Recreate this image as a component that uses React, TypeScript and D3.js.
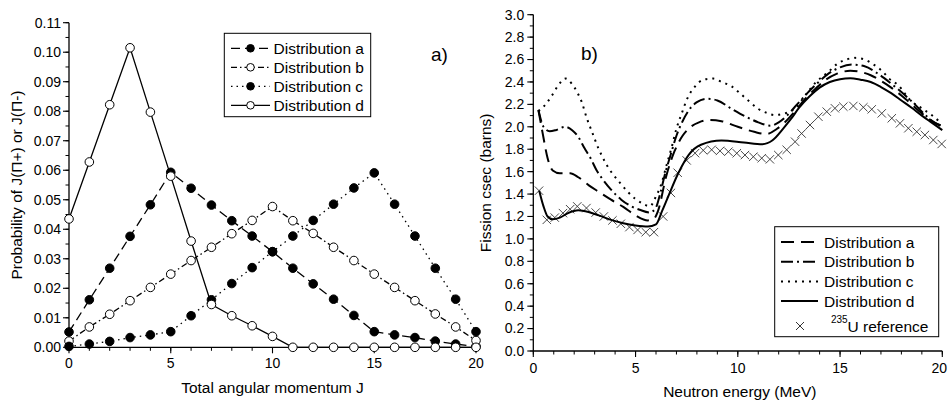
import React from "react";
import * as d3 from "d3";

// ---------- Panel a) data ----------
const J = [0, 1, 2, 3, 4, 5, 6, 7, 8, 9, 10, 11, 12, 13, 14, 15, 16, 17, 18, 19, 20];
const distA = [0.0052, 0.0161, 0.0268, 0.0376, 0.0483, 0.0593, 0.0539, 0.0482, 0.0429, 0.0377, 0.0324, 0.0268, 0.0215, 0.0163, 0.0108, 0.0053, 0.0042, 0.0033, 0.0021, 0.0011, 0.0003];
const distB = [0.0021, 0.0069, 0.0112, 0.0158, 0.0203, 0.0248, 0.0294, 0.0339, 0.0385, 0.043, 0.0477, 0.0429, 0.0386, 0.0339, 0.0294, 0.0248, 0.0203, 0.0158, 0.0113, 0.0069, 0.0023];
const distC = [0.0003, 0.0011, 0.002, 0.0033, 0.0042, 0.0053, 0.0107, 0.0161, 0.0216, 0.027, 0.0324, 0.0377, 0.043, 0.0485, 0.054, 0.0591, 0.0485, 0.0377, 0.0268, 0.0163, 0.0053];
const distD = [0.0435, 0.0628, 0.0822, 0.1015, 0.0797, 0.058, 0.036, 0.0145, 0.0107, 0.0073, 0.0037, 0, 0, 0, 0, 0, 0, 0, 0, 0, 0];
const legendA = ["Distribution a", "Distribution b", "Distribution c", "Distribution d"];

// ---------- Panel b) data ----------
const energyA = [0.25, 0.45, 0.7, 0.95, 1.3, 1.8, 2.2, 2.7, 3.2, 3.8, 4.4, 5.0, 5.6, 5.9, 6.1, 6.5, 6.9, 7.3, 7.7, 8.1, 8.6, 9.2, 10.0, 10.8, 11.4, 11.9, 12.3, 12.8, 13.3, 13.8, 14.3, 14.8, 15.5, 16.0, 16.5, 17.0, 17.5, 18.0, 18.5, 19.0, 19.5, 20.0];
const csecA = [2.15, 1.95, 1.72, 1.61, 1.585, 1.585, 1.55, 1.48, 1.42, 1.35, 1.285, 1.21, 1.165, 1.18, 1.25, 1.56, 1.78, 1.92, 2.0, 2.04, 2.06, 2.05, 2.0, 1.955, 1.935, 1.98, 2.04, 2.14, 2.25, 2.34, 2.42, 2.47, 2.5, 2.49, 2.46, 2.41, 2.35, 2.28, 2.2, 2.12, 2.05, 2.0];

const energyB = [0.25, 0.5, 0.8, 1.1, 1.55, 1.9, 2.2, 2.5, 2.8, 3.1, 3.4, 3.8, 4.3, 4.8, 5.2, 5.7, 6.0, 6.2, 6.45, 6.7, 7.0, 7.3, 7.7, 8.0, 8.5, 9.0, 9.7, 10.4, 11.0, 11.6, 12.0, 12.4, 12.9, 13.4, 13.9, 14.4, 15.0, 15.6, 16.2, 16.8, 17.4, 18.0, 18.6, 19.2, 19.6, 20.0];
const csecB = [2.15, 2.0, 1.96, 1.97, 2.0, 1.97, 1.91, 1.81, 1.72, 1.61, 1.53, 1.44, 1.35, 1.29, 1.26, 1.235, 1.28, 1.4, 1.585, 1.74, 1.92, 2.05, 2.17, 2.22, 2.25, 2.235, 2.16, 2.09, 2.04, 2.01, 2.04, 2.1, 2.2, 2.3, 2.39, 2.47, 2.53, 2.555, 2.54, 2.48, 2.4, 2.31, 2.21, 2.1, 2.04, 2.01];

const energyC = [0.25, 0.65, 0.95, 1.22, 1.58, 1.9, 2.17, 2.37, 2.61, 2.86, 3.18, 3.59, 4.24, 4.97, 5.4, 5.7, 6.0, 6.28, 6.52, 6.77, 7.01, 7.26, 7.5, 7.91, 8.31, 8.8, 9.21, 9.7, 10.1, 10.6, 11.0, 11.4, 11.82, 12.22, 12.8, 13.3, 13.78, 14.43, 14.9, 15.3, 15.73, 16.2, 16.6, 17.1, 17.4, 17.85, 18.42, 18.99, 19.48, 19.9];
const csecC = [2.14, 2.21, 2.29, 2.37, 2.43, 2.38, 2.3, 2.22, 2.08, 1.96, 1.81, 1.66, 1.5, 1.36, 1.31, 1.29, 1.38, 1.5, 1.66, 1.82, 1.99, 2.12, 2.24, 2.36, 2.42, 2.43, 2.4, 2.36, 2.3, 2.22, 2.16, 2.125, 2.105, 2.115, 2.165, 2.28, 2.39, 2.49, 2.566, 2.6, 2.615, 2.6, 2.56, 2.49, 2.43, 2.37, 2.24, 2.165, 2.105, 2.04];

const energyD = [0.29, 0.5, 0.7, 0.95, 1.3, 1.7, 2.2, 2.7, 3.2, 3.8, 4.4, 5.0, 5.6, 6.0, 6.3, 6.6, 7.1, 7.6, 8.2, 9.2, 10.3, 11.2, 11.7, 12.2, 12.6, 13.0, 13.5, 14.0, 14.5, 15.0, 15.5, 16.0, 16.5, 17.0, 17.5, 18.0, 18.5, 19.0, 19.5, 20.0];
const csecD = [1.43, 1.29, 1.2, 1.175, 1.19, 1.23, 1.255, 1.24, 1.21, 1.17, 1.14, 1.12, 1.11, 1.13, 1.25, 1.38, 1.59, 1.75, 1.84, 1.877, 1.86, 1.845, 1.88, 1.98, 2.07, 2.17, 2.27, 2.35, 2.4, 2.425, 2.433, 2.42, 2.4, 2.355, 2.3, 2.235, 2.17, 2.1, 2.035, 1.97];

const energyRef = [0.28, 0.66, 1.05, 1.45, 1.8, 2.15, 2.6, 3.05, 3.45, 3.87, 4.28, 4.7, 5.1, 5.5, 5.9, 6.35, 6.73, 7.06, 7.5, 7.91, 8.31, 8.72, 9.13, 9.54, 9.95, 10.35, 10.76, 11.17, 11.57, 11.98, 12.39, 12.8, 13.12, 13.53, 13.94, 14.35, 14.75, 15.16, 15.65, 16.14, 16.55, 17.04, 17.53, 17.93, 18.34, 18.75, 19.15, 19.56, 19.97];
const csecRef = [1.43, 1.17, 1.19, 1.23, 1.265, 1.29, 1.275, 1.235, 1.2, 1.165, 1.135, 1.105, 1.08, 1.06, 1.06, 1.2, 1.41, 1.59, 1.7, 1.765, 1.79, 1.795, 1.785, 1.778, 1.764, 1.748, 1.733, 1.72, 1.71, 1.748, 1.795, 1.867, 1.94, 2.016, 2.09, 2.135, 2.165, 2.18, 2.186, 2.174, 2.156, 2.12, 2.076, 2.031, 1.987, 1.956, 1.927, 1.882, 1.847];
const legendB = ["Distribution a", "Distribution b", "Distribution c", "Distribution d"];

const FONT = "'Liberation Sans', Arial, Helvetica, sans-serif";

export default function App() {
  const xL = d3.scaleLinear().domain([0, 20]).range([69, 476]);
  const yL = d3.scaleLinear().domain([0, 0.11]).range([347.3, 22.7]);
  const xR = d3.scaleLinear().domain([0, 20]).range([533.3, 942.3]);
  const yR = d3.scaleLinear().domain([0, 3]).range([351, 14.7]);

  const lineL = d3
    .line<[number, number]>()
    .x((d) => xL(d[0]))
    .y((d) => yL(d[1]));
  const lineR = d3
    .line<[number, number]>()
    .x((d) => xR(d[0]))
    .y((d) => yR(d[1]))
    .curve(d3.curveMonotoneX);

  const seriesL = [
    { vals: distA, dash: "9,5", fill: "#000" },
    { vals: distB, dash: "6,3,1.5,3", fill: "#fff" },
    { vals: distC, dash: "1.5,4", fill: "#000" },
    { vals: distD, dash: "none", fill: "#fff" },
  ];
  const seriesR = [
    { e: energyA, v: csecA, dash: "13,7" },
    { e: energyB, v: csecB, dash: "12,4,2,4" },
    { e: energyC, v: csecC, dash: "2,5" },
    { e: energyD, v: csecD, dash: "none" },
  ];
  const legendSampleR = ["13,7", "12,4,2,4", "2,5", "none"];

  const fmtL = d3.format(".2f");
  const fmtR = d3.format(".1f");
  const tickFont = 14;

  const xLMajor = xL.ticks(4);
  const xLMinor = xL.ticks(20);
  const yLMajor = yL.ticks(11);
  const yLMinor = yL.ticks(22);
  const xRMajor = xR.ticks(4);
  const xRMinor = xR.ticks(20);
  const yRMajor = yR.ticks(15);
  const yRMinor = yR.ticks(30);

  const axisStroke = 1.3;

  return (
    <svg
      width={948}
      height={402}
      style={{ position: "absolute", left: 0, top: 0, background: "#fff" }}
      fontFamily={FONT}
    >
      <rect x={0} y={0} width={948} height={402} fill="#fff" />

      {/* ================= Panel a ================= */}
      <g>
        <line x1={xL(0)} x2={xL(0)} y1={yL(0)} y2={yL(0.11)} stroke="#000" strokeWidth={axisStroke} />
        <line x1={xL(0)} x2={xL(20)} y1={yL(0)} y2={yL(0)} stroke="#000" strokeWidth={axisStroke} />
        {yLMinor.map((t, i) => (
          <line key={"ylm" + i} x1={xL(0) - 3.5} x2={xL(0)} y1={yL(t)} y2={yL(t)} stroke="#000" strokeWidth={1} />
        ))}
        {yLMajor.map((t, i) => (
          <g key={"ylM" + i}>
            <line x1={xL(0) - 6} x2={xL(0)} y1={yL(t)} y2={yL(t)} stroke="#000" strokeWidth={1.1} />
            <text x={xL(0) - 8} y={yL(t)} dy="0.35em" textAnchor="end" fontSize={tickFont}>
              {fmtL(t)}
            </text>
          </g>
        ))}
        {xLMinor.map((t, i) => (
          <line key={"xlm" + i} x1={xL(t)} x2={xL(t)} y1={yL(0)} y2={yL(0) + 3.5} stroke="#000" strokeWidth={1} />
        ))}
        {xLMajor.map((t, i) => (
          <g key={"xlM" + i}>
            <line x1={xL(t)} x2={xL(t)} y1={yL(0)} y2={yL(0) + 6} stroke="#000" strokeWidth={1.1} />
            <text x={xL(t)} y={368} textAnchor="middle" fontSize={tickFont}>
              {t}
            </text>
          </g>
        ))}
        <text x={(xL(0) + xL(20)) / 2} y={393} textAnchor="middle" fontSize={15.5}>
          Total angular momentum J
        </text>
        <text
          transform={`translate(22,${(yL(0) + yL(0.11)) / 2}) rotate(-90)`}
          textAnchor="middle"
          fontSize={15.5}
        >
          Probability of J(Π+) or J(Π-)
        </text>

        {seriesL.map((s, k) => (
          <path
            key={"pl" + k}
            d={lineL(J.map((j, i) => [j, s.vals[i]] as [number, number])) || ""}
            fill="none"
            stroke="#000"
            strokeWidth={1.3}
            strokeDasharray={s.dash}
          />
        ))}
        {seriesL.map((s, k) => (
          <g key={"mk" + k}>
            {J.map((j, i) => (
              <circle key={i} cx={xL(j)} cy={yL(s.vals[i])} r={4.3} fill={s.fill} stroke="#000" strokeWidth={1} />
            ))}
          </g>
        ))}

        <rect x={224.3} y={33.3} width={146.4} height={83.4} fill="#fff" stroke="#000" strokeWidth={1} />
        {legendA.map((name, i) => {
          const cy = 48.3 + i * 19;
          return (
            <g key={"lga" + i}>
              <line x1={231} x2={270} y1={cy} y2={cy} stroke="#000" strokeWidth={1.3} strokeDasharray={seriesL[i].dash} />
              <circle cx={250.5} cy={cy} r={3.8} fill={seriesL[i].fill} stroke="#000" strokeWidth={1} />
              <text x={273.5} y={cy + 5.5} fontSize={15.5}>
                {name}
              </text>
            </g>
          );
        })}
        <text x={431} y={61} fontSize={19}>
          a)
        </text>
      </g>

      {/* ================= Panel b ================= */}
      <g>
        <line x1={xR(0)} x2={xR(0)} y1={yR(0)} y2={yR(3)} stroke="#000" strokeWidth={axisStroke} />
        <line x1={xR(0)} x2={xR(20)} y1={yR(0)} y2={yR(0)} stroke="#000" strokeWidth={axisStroke} />
        {yRMinor.map((t, i) => (
          <line key={"yrm" + i} x1={xR(0) - 3.5} x2={xR(0)} y1={yR(t)} y2={yR(t)} stroke="#000" strokeWidth={1} />
        ))}
        {yRMajor.map((t, i) => (
          <g key={"yrM" + i}>
            <line x1={xR(0) - 6} x2={xR(0)} y1={yR(t)} y2={yR(t)} stroke="#000" strokeWidth={1.1} />
            <text x={xR(0) - 9} y={yR(t)} dy="0.35em" textAnchor="end" fontSize={tickFont}>
              {fmtR(t)}
            </text>
          </g>
        ))}
        {xRMinor.map((t, i) => (
          <line key={"xrm" + i} x1={xR(t)} x2={xR(t)} y1={yR(0)} y2={yR(0) + 3.5} stroke="#000" strokeWidth={1} />
        ))}
        {xRMajor.map((t, i) => {
          const last = i === xRMajor.length - 1;
          return (
            <g key={"xrM" + i}>
              <line x1={xR(t)} x2={xR(t)} y1={yR(0)} y2={yR(0) + 6} stroke="#000" strokeWidth={1.1} />
              <text
                x={last ? 947 : xR(t)}
                y={373}
                textAnchor={last ? "end" : "middle"}
                fontSize={tickFont}
              >
                {t}
              </text>
            </g>
          );
        })}
        <text x={(xR(0) + xR(20)) / 2 + 2} y={397} textAnchor="middle" fontSize={15.5}>
          Neutron energy (MeV)
        </text>
        <text
          transform={`translate(491,${(yR(0) + yR(3)) / 2}) rotate(-90)`}
          textAnchor="middle"
          fontSize={15.5}
        >
          Fission csec (barns)
        </text>

        {energyRef.map((e, i) => {
          const cx = xR(e);
          const cy = yR(csecRef[i]);
          const s = 4.2;
          return (
            <path
              key={"x" + i}
              d={`M${cx - s},${cy - s}L${cx + s},${cy + s}M${cx - s},${cy + s}L${cx + s},${cy - s}`}
              stroke="#333"
              strokeWidth={0.9}
              fill="none"
            />
          );
        })}

        {seriesR.map((s, k) => (
          <path
            key={"pr" + k}
            d={lineR(s.e.map((e, i) => [e, s.v[i]] as [number, number])) || ""}
            fill="none"
            stroke="#000"
            strokeWidth={2}
            strokeDasharray={s.dash}
          />
        ))}

        <rect x={774.7} y={226.7} width={164} height={110} fill="#fff" stroke="#000" strokeWidth={1} />
        {legendB.map((name, i) => {
          const cy = 242 + i * 19.7;
          return (
            <g key={"lgb" + i}>
              <line x1={781} x2={818} y1={cy} y2={cy} stroke="#000" strokeWidth={2} strokeDasharray={legendSampleR[i]} />
              <text x={824} y={cy + 5.5} fontSize={15.5}>
                {name}
              </text>
            </g>
          );
        })}
        <path d={`M796,322L804,330M796,330L804,322`} stroke="#333" strokeWidth={1} fill="none" />
        <text x={831} y={323} fontSize={10}>
          235
        </text>
        <text x={847.5} y={331.5} fontSize={15.5}>
          U reference
        </text>
        <text x={581} y={60} fontSize={19}>
          b)
        </text>
      </g>
    </svg>
  );
}
